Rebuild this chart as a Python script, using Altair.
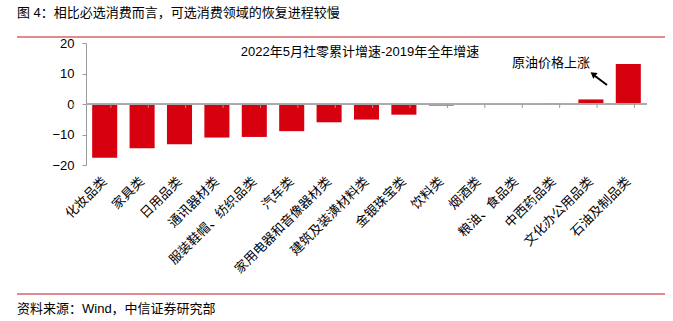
import altair as alt
import pandas as pd

categories = ["化妆品类", "家具类", "日用品类", "通讯器材类", "服装鞋帽、纺织品类", "汽车类",
              "家用电器和音像器材类", "建筑及装潢材料类", "金银珠宝类", "饮料类", "烟酒类",
              "粮油、食品类", "中西药品类", "文化办公用品类", "石油及制品类"]
values = [-17.6, -14.5, -13.2, -11.0, -10.8, -8.9, -6.0, -5.1, -3.5, -0.5, -0.3, -0.2, 0.3, 1.5, 13.1]
y_domain = [-20, 20]

FONT = "Liberation Sans, Noto Sans CJK SC"
W, H = 561, 122
BAND = W / len(categories)

df = pd.DataFrame({"cat": categories, "val": values})

xs = alt.X("cat:N", sort=categories, title=None,
           scale=alt.Scale(paddingInner=0.33, paddingOuter=0.165))
ys = alt.Y("val:Q", title=None, scale=alt.Scale(domain=y_domain, nice=False))

bars = alt.Chart(df).mark_bar(color="#d7000f").encode(x=xs, y=ys)

zero = alt.Chart(df).mark_rule(color="#aaa", strokeWidth=1).encode(
    x=alt.value(0), x2=alt.value(W), y=alt.datum(0))

xtick = alt.X("cat:N", sort=categories)
ticks = alt.Chart(df).mark_rule(color="#999", strokeWidth=1).encode(
    x=xtick, xOffset=alt.value(-BAND / 2),
    y=alt.datum(0), y2=alt.datum(-1.3))
tick_end = alt.Chart(df.tail(1)).mark_rule(color="#999", strokeWidth=1).encode(
    x=xtick, xOffset=alt.value(BAND / 2),
    y=alt.datum(0), y2=alt.datum(-1.3))

def txt(s, x, y, size=13, align="center"):
    return alt.Chart(pd.DataFrame({"t": [s]})).mark_text(
        font=FONT, fontSize=size, align=align, baseline="middle", color="#000").encode(
        text="t:N", x=alt.value(x), y=alt.value(y))

title = txt("图 4：相比必选消费而言，可选消费领域的恢复进程较慢", -69, -30, 13, "left")
source = txt("资料来源：Wind，中信证券研究部", -69, 266, 13, "left")
ann1 = txt("2022年5月社零累计增速-2019年全年增速", 274, 9, 13)
ann2 = txt("原油价格上涨", 465, 20, 13)

line_top = alt.Chart(df.head(1)).mark_rule(color="#e08c8f", strokeWidth=2).encode(
    x=alt.value(-69), x2=alt.value(579), y=alt.value(-6))
line_bot = alt.Chart(df.head(1)).mark_rule(color="#e08c8f", strokeWidth=2).encode(
    x=alt.value(-69), x2=alt.value(579), y=alt.value(251))

arrow_line = alt.Chart(df.head(1)).mark_rule(color="#000", strokeWidth=2).encode(
    x=alt.value(521), x2=alt.value(509), y=alt.value(42), y2=alt.value(33))
arrow_head = alt.Chart(df.head(1)).mark_point(shape="triangle-up", filled=True, color="#000",
                                               size=50, angle=307, opacity=1).encode(
    x=alt.value(507), y=alt.value(31))

chart = alt.layer(bars, zero, ticks, tick_end, title, source, ann1, ann2,
                  line_top, line_bot, arrow_line, arrow_head).properties(
    width=W, height=H,
    autosize=alt.AutoSizeParams(type="none"),
    padding={"left": 86, "top": 43, "right": 26, "bottom": 156},
).configure_view(stroke=None).configure_axisY(
    tickCount=5, grid=False, tickSize=4, labelPadding=8, labelFontSize=13, labelFont=FONT,
    labelColor="#000", labelOverlap=False, domainColor="#999", tickColor="#999", title=None
).configure_axisX(
    labelAngle=-45, labelAlign="right", labelBaseline="middle", labelPadding=14, ticks=False,
    domain=False, labelFontSize=13, labelFont=FONT, labelColor="#000", labelOverlap=False,
    grid=False, title=None
)

chart.save("out.html", embed_options={"renderer": "svg", "actions": False})
